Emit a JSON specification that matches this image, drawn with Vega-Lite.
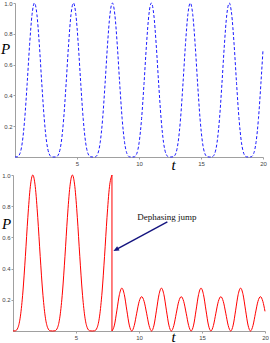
{
  "$schema": "https://vega.github.io/schema/vega-lite/v6.json",
  "padding": 0,
  "background": "white",
  "spacing": 18,
  "bounds": "flush",
  "center": true,
  "config": {
    "view": {"stroke": null},
    "axis": {
      "grid": false,
      "domainColor": "#a0a0a0",
      "tickColor": "#a0a0a0",
      "tickSize": 2,
      "labelFont": "Liberation Sans",
      "labelFontSize": 6,
      "labelColor": "#444444",
      "labelPadding": 1,
      "labelFlush": false,
      "titleFont": "Liberation Serif",
      "titleFontStyle": "italic",
      "titleFontWeight": "normal",
      "titleFontSize": 15,
      "titleColor": "#000000",
      "titleAlign": "center",
      "titleBaseline": "alphabetic",
      "titleAngle": 0
    }
  },
  "datasets": {
    "top": [
      {"t":0,"P":0},{"t":0.1963,"P":0.0014},{"t":0.3927,"P":0.0214},{"t":0.5890,"P":0.0953},{"t":0.7854,"P":0.25},{"t":0.9817,"P":0.478},{"t":1.1781,"P":0.7286},{"t":1.3744,"P":0.9253},
      {"t":1.5708,"P":1},{"t":1.7671,"P":0.9253},{"t":1.9635,"P":0.7286},{"t":2.1598,"P":0.478},{"t":2.3562,"P":0.25},{"t":2.5525,"P":0.0953},{"t":2.7489,"P":0.0214},{"t":2.9452,"P":0.0014},
      {"t":3.1416,"P":0},{"t":3.3379,"P":0.0014},{"t":3.5343,"P":0.0214},{"t":3.7306,"P":0.0953},{"t":3.9270,"P":0.25},{"t":4.1233,"P":0.478},{"t":4.3197,"P":0.7286},{"t":4.5160,"P":0.9253},
      {"t":4.7124,"P":1},{"t":4.9087,"P":0.9253},{"t":5.1051,"P":0.7286},{"t":5.3014,"P":0.478},{"t":5.4978,"P":0.25},{"t":5.6941,"P":0.0953},{"t":5.8905,"P":0.0214},{"t":6.0868,"P":0.0014},
      {"t":6.2832,"P":0},{"t":6.4795,"P":0.0014},{"t":6.6759,"P":0.0214},{"t":6.8722,"P":0.0953},{"t":7.0686,"P":0.25},{"t":7.2649,"P":0.478},{"t":7.4613,"P":0.7286},{"t":7.6576,"P":0.9253},
      {"t":7.8540,"P":1},{"t":8.0503,"P":0.9253},{"t":8.2467,"P":0.7286},{"t":8.4430,"P":0.478},{"t":8.6394,"P":0.25},{"t":8.8357,"P":0.0953},{"t":9.0321,"P":0.0214},{"t":9.2284,"P":0.0014},
      {"t":9.4248,"P":0},{"t":9.6211,"P":0.0014},{"t":9.8175,"P":0.0214},{"t":10.0138,"P":0.0953},{"t":10.2102,"P":0.25},{"t":10.4065,"P":0.478},{"t":10.6029,"P":0.7286},{"t":10.7992,"P":0.9253},
      {"t":10.9956,"P":1},{"t":11.1919,"P":0.9253},{"t":11.3883,"P":0.7286},{"t":11.5846,"P":0.478},{"t":11.7810,"P":0.25},{"t":11.9773,"P":0.0953},{"t":12.1737,"P":0.0214},{"t":12.3700,"P":0.0014},
      {"t":12.5664,"P":0},{"t":12.7627,"P":0.0014},{"t":12.9591,"P":0.0214},{"t":13.1554,"P":0.0953},{"t":13.3518,"P":0.25},{"t":13.5481,"P":0.478},{"t":13.7445,"P":0.7286},{"t":13.9408,"P":0.9253},
      {"t":14.1372,"P":1},{"t":14.3335,"P":0.9253},{"t":14.5299,"P":0.7286},{"t":14.7262,"P":0.478},{"t":14.9226,"P":0.25},{"t":15.1189,"P":0.0953},{"t":15.3153,"P":0.0214},{"t":15.5116,"P":0.0014},
      {"t":15.7080,"P":0},{"t":15.9043,"P":0.0014},{"t":16.1007,"P":0.0214},{"t":16.2970,"P":0.0953},{"t":16.4934,"P":0.25},{"t":16.6897,"P":0.478},{"t":16.8861,"P":0.7286},{"t":17.0824,"P":0.9253},
      {"t":17.2788,"P":1},{"t":17.4751,"P":0.9253},{"t":17.6715,"P":0.7286},{"t":17.8678,"P":0.478},{"t":18.0642,"P":0.25},{"t":18.2605,"P":0.0953},{"t":18.4569,"P":0.0214},{"t":18.6532,"P":0.0014},
      {"t":18.8496,"P":0},{"t":19.0459,"P":0.0014},{"t":19.2423,"P":0.0214},{"t":19.4386,"P":0.0953},{"t":19.6350,"P":0.25},{"t":19.8313,"P":0.478},{"t":20,"P":0.6946}
    ],
    "post": [
      {"t":7.8540,"P":0},{"t":8.0503,"P":0.0378},{"t":8.2467,"P":0.1335},{"t":8.4430,"P":0.2329},{"t":8.6394,"P":0.275},{"t":8.8357,"P":0.2329},{"t":9.0321,"P":0.1335},{"t":9.2284,"P":0.0378},
      {"t":9.4248,"P":0},{"t":9.6211,"P":0.0347},{"t":9.8175,"P":0.114},{"t":10.0138,"P":0.1896},{"t":10.2102,"P":0.22},{"t":10.4065,"P":0.1896},{"t":10.6029,"P":0.114},{"t":10.7992,"P":0.0347},
      {"t":10.9956,"P":0},{"t":11.1919,"P":0.0378},{"t":11.3883,"P":0.1335},{"t":11.5846,"P":0.2329},{"t":11.7810,"P":0.275},{"t":11.9773,"P":0.2329},{"t":12.1737,"P":0.1335},{"t":12.3700,"P":0.0378},
      {"t":12.5664,"P":0},{"t":12.7627,"P":0.0347},{"t":12.9591,"P":0.114},{"t":13.1554,"P":0.1896},{"t":13.3518,"P":0.22},{"t":13.5481,"P":0.1896},{"t":13.7445,"P":0.114},{"t":13.9408,"P":0.0347},
      {"t":14.1372,"P":0},{"t":14.3335,"P":0.0378},{"t":14.5299,"P":0.1335},{"t":14.7262,"P":0.2329},{"t":14.9226,"P":0.275},{"t":15.1189,"P":0.2329},{"t":15.3153,"P":0.1335},{"t":15.5116,"P":0.0378},
      {"t":15.7080,"P":0},{"t":15.9043,"P":0.0347},{"t":16.1007,"P":0.114},{"t":16.2970,"P":0.1896},{"t":16.4934,"P":0.22},{"t":16.6897,"P":0.1896},{"t":16.8861,"P":0.114},{"t":17.0824,"P":0.0347},
      {"t":17.2788,"P":0},{"t":17.4751,"P":0.0378},{"t":17.6715,"P":0.1335},{"t":17.8678,"P":0.2329},{"t":18.0642,"P":0.275},{"t":18.2605,"P":0.2329},{"t":18.4569,"P":0.1335},{"t":18.6532,"P":0.0378},
      {"t":18.8496,"P":0},{"t":19.0459,"P":0.0347},{"t":19.2423,"P":0.114},{"t":19.4386,"P":0.1896},{"t":19.6350,"P":0.22},{"t":19.8313,"P":0.1896},{"t":20,"P":0.126}
    ],
    "jump": [{"t":7.854,"P":0,"P2":1}],
    "arrow": [{"t":12.25,"P":0.70,"t2":8.17,"P2":0.522}],
    "head": [{"t":7.97,"P":0.513}],
    "note": [{"t":9.87,"P":0.712,"label":"Dephasing jump"}]
  },
  "vconcat": [
    {
      "width": 248,
      "height": 154,
      "data": {"name": "top"},
      "mark": {"type": "line", "color": "#1a1aff", "strokeWidth": 1, "strokeDash": [3, 2], "interpolate": "monotone"},
      "encoding": {
        "x": {"field": "t", "type": "quantitative", "scale": {"domain": [0, 20], "nice": false},
              "axis": {"values": [5, 10, 15, 20], "title": "t", "titleX": 158, "titleY": 12}},
        "y": {"field": "P", "type": "quantitative", "scale": {"domain": [0, 1], "nice": false},
              "axis": {"values": [0.2, 0.4, 0.6, 0.8, 1.0], "format": ".1f", "title": "P", "titleX": -10, "titleY": 50}}
      }
    },
    {
      "width": 252,
      "height": 156,
      "encoding": {
        "x": {"field": "t", "type": "quantitative", "scale": {"domain": [0, 20], "nice": false},
              "axis": {"values": [5, 10, 15, 20], "title": "t", "titleX": 160, "titleY": 10}},
        "y": {"field": "P", "type": "quantitative", "scale": {"domain": [0, 1], "nice": false},
              "axis": {"values": [0.2, 0.4, 0.6, 0.8, 1.0], "format": ".1f", "title": "P", "titleX": -7, "titleY": 53}}
      },
      "layer": [
        {
          "data": {"name": "top"},
          "transform": [{"filter": "datum.t <= 7.86"}],
          "mark": {"type": "line", "color": "#ff0000", "strokeWidth": 1, "interpolate": "monotone"}
        },
        {
          "data": {"name": "post"},
          "mark": {"type": "line", "color": "#ff0000", "strokeWidth": 1, "interpolate": "monotone"}
        },
        {
          "data": {"name": "jump"},
          "mark": {"type": "rule", "color": "#ff0000", "strokeWidth": 1},
          "encoding": {"y2": {"field": "P2"}}
        },
        {
          "data": {"name": "arrow"},
          "mark": {"type": "rule", "color": "#14147f", "strokeWidth": 1.4},
          "encoding": {"x2": {"field": "t2"}, "y2": {"field": "P2"}}
        },
        {
          "data": {"name": "head"},
          "mark": {"type": "point", "shape": "M0,0L0.7,1.6L-0.7,1.6Z", "size": 49, "angle": 241.5, "filled": true, "color": "#14147f", "opacity": 1, "strokeWidth": 0}
        },
        {
          "data": {"name": "note"},
          "mark": {"type": "text", "align": "left", "baseline": "alphabetic", "font": "Liberation Serif", "fontSize": 9, "color": "#111111"},
          "encoding": {"text": {"field": "label"}}
        }
      ]
    }
  ]
}
